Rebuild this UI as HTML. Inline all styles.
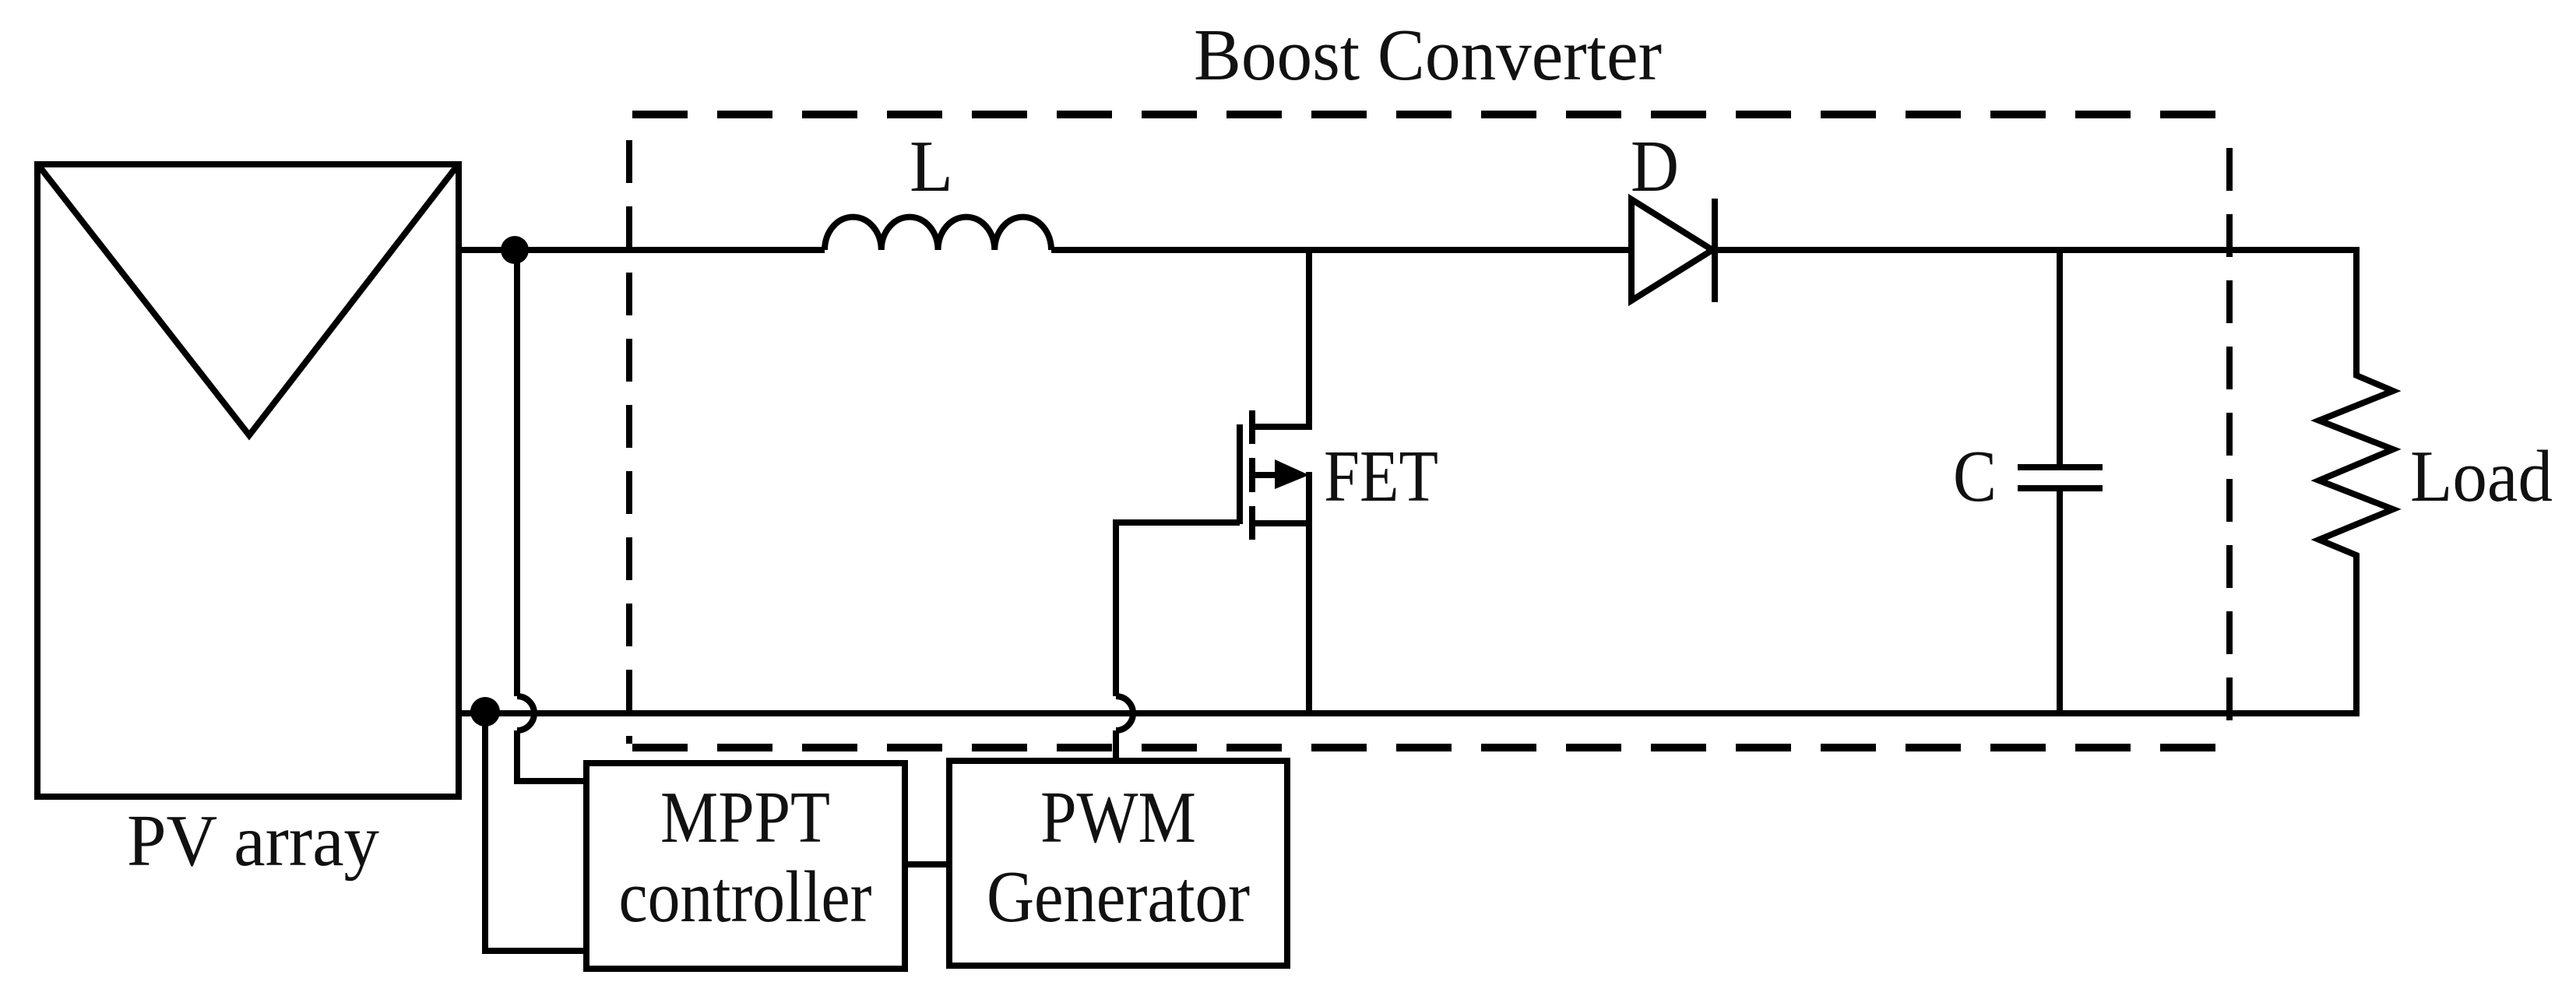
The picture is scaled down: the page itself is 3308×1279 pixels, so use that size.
<!DOCTYPE html>
<html><head><meta charset="utf-8"><style>
html,body{margin:0;padding:0;background:#fff;}
svg{display:block;}
text{font-family:"Liberation Serif",serif;fill:#111;}
</style></head><body>
<svg width="3308" height="1279" viewBox="0 0 3308 1279" xmlns="http://www.w3.org/2000/svg">
<g fill="none" stroke="#000" stroke-width="8" stroke-linejoin="miter">
<rect x="48" y="211" width="541" height="812"/>
<polyline points="50,213 320,559 587,213"/>
<line x1="589" y1="321" x2="1059" y2="321"/>
<path d="M1059,321 A36,42 0 0 1 1131.75,321 A36,42 0 0 1 1204.5,321 A36,42 0 0 1 1277.25,321 A36,42 0 0 1 1350,321"/>
<line x1="1350" y1="321" x2="2095" y2="321"/>
<line x1="2199" y1="321" x2="3030" y2="321"/>
<polygon points="2095,256 2199,321 2095,386"/>
<line x1="2202" y1="255" x2="2202" y2="388"/>
<line x1="589" y1="916" x2="3030" y2="916"/>
<polyline points="1681,321 1681,548 1608,548"/>
<line x1="1608" y1="527" x2="1608" y2="570"/>
<line x1="1608" y1="588" x2="1608" y2="632"/>
<line x1="1608" y1="650" x2="1608" y2="693"/>
<line x1="1592" y1="545" x2="1592" y2="673"/>
<line x1="1608" y1="610" x2="1640" y2="610"/>
<polyline points="1608,672 1681,672"/>
<polyline points="1681,606 1681,916"/>
<polyline points="1592,671 1433,671 1433,894"/>
<path d="M1433,894 A22,22 0 0 1 1433,938"/>
<line x1="1433" y1="938" x2="1433" y2="977"/>
<line x1="2645" y1="321" x2="2645" y2="600"/>
<line x1="2645" y1="627" x2="2645" y2="916"/>
<line x1="2591" y1="600" x2="2700" y2="600"/>
<line x1="2591" y1="627" x2="2700" y2="627"/>
<polyline points="3026,321 3026,482 3073,502 2978,540 3073,577 2978,617 3073,654 2978,693 3026,713 3026,916"/>
<line x1="664" y1="321" x2="664" y2="894"/>
<path d="M664,894 A22,22 0 0 1 664,938"/>
<polyline points="664,938 664,1003 753,1003"/>
<polyline points="623,916 623,1221 753,1221"/>
<rect x="753" y="980" width="409" height="264"/>
<rect x="1219" y="977" width="434" height="263"/>
<line x1="1162" y1="1110" x2="1219" y2="1110"/>
</g>
<polygon points="1637,590 1681,610 1637,628" fill="#000"/>
<circle cx="661" cy="321" r="18" fill="#000"/>
<circle cx="623" cy="914" r="19" fill="#000"/>
<g fill="none" stroke="#000" stroke-width="10" stroke-dasharray="71 38">
<line x1="812" y1="147" x2="2866" y2="147"/>
<line x1="812" y1="960" x2="2866" y2="960"/>
<line x1="808" y1="180" x2="808" y2="955" stroke-width="8" stroke-dasharray="55 30"/>
<line x1="2863" y1="190" x2="2863" y2="955" stroke-width="8" stroke-dasharray="55 30"/>
</g>
<text x="1533" y="102" font-size="94" textLength="601" lengthAdjust="spacingAndGlyphs">Boost Converter</text>
<text x="1168" y="245" font-size="94" textLength="56" lengthAdjust="spacingAndGlyphs">L</text>
<text x="2094" y="245" font-size="94" textLength="62" lengthAdjust="spacingAndGlyphs">D</text>
<text x="1700" y="643" font-size="94" textLength="147" lengthAdjust="spacingAndGlyphs">FET</text>
<text x="2508" y="643" font-size="94" textLength="56" lengthAdjust="spacingAndGlyphs">C</text>
<text x="3095" y="643" font-size="94" textLength="183" lengthAdjust="spacingAndGlyphs">Load</text>
<text x="163" y="1111" font-size="94" textLength="324" lengthAdjust="spacingAndGlyphs">PV array</text>
<text x="957" y="1081" font-size="94" text-anchor="middle" textLength="218" lengthAdjust="spacingAndGlyphs">MPPT</text>
<text x="957" y="1183" font-size="94" text-anchor="middle" textLength="325" lengthAdjust="spacingAndGlyphs">controller</text>
<text x="1436" y="1081" font-size="94" text-anchor="middle" textLength="200" lengthAdjust="spacingAndGlyphs">PWM</text>
<text x="1436" y="1183" font-size="94" text-anchor="middle" textLength="338" lengthAdjust="spacingAndGlyphs">Generator</text>
</svg>
</body></html>
